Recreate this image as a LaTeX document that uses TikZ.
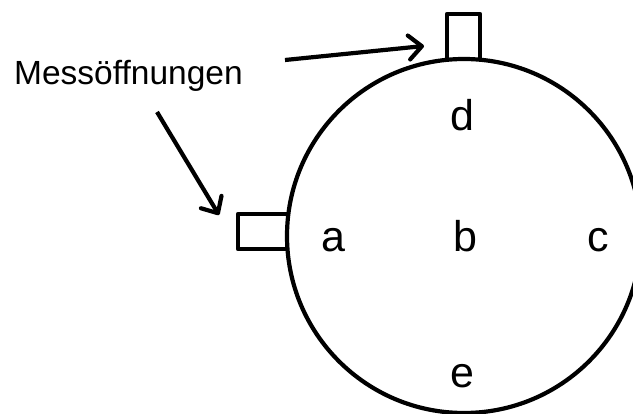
\documentclass[tikz,border=0pt]{standalone}
\usepackage{fontspec}
\setmainfont{Liberation Sans}
\usetikzlibrary{arrows.meta}
\begin{document}
\begin{tikzpicture}[x=1pt,y=-1pt,
  outline/.style={line width=4.2pt, line join=round},
  pointer/.style={line width=4.2pt, -{Straight Barb[length=13pt,width=24pt,line join=round,line cap=round]}},
  zone/.style={font=\fontsize{43}{43}\selectfont, anchor=base, inner sep=0pt},
  caption/.style={font=\fontsize{33.5}{33.5}\selectfont, anchor=base west, inner sep=0pt}]
\useasboundingbox (0,0) rectangle (633,414);
\clip (0,0) rectangle (633,414);
% pipe cross-section
\node[circle, draw, outline, minimum size=354pt, inner sep=0pt] (pipe) at (464,236) {};
% measuring openings
\draw[outline] (447,60) -- (447,14) -- (480,14) -- (480,60);
\draw[outline] (289,214) -- (238,214) -- (238,249) -- (289,249);
% zone labels
\node[zone] (a) at (333,252) {a};
\node[zone] (b) at (465,252) {b};
\node[zone] (c) at (598,252) {c};
\node[zone] (d) at (462,131) {d};
\node[zone] (e) at (462,388) {e};
% caption
\node[caption] (lbl) at (14,85) {Messöffnungen};
\coordinate (s1) at (285,60);
\coordinate (t1) at (424,46);
\coordinate (s2) at (157,112);
\coordinate (t2) at (219,215);
\draw[pointer] (s1) -- (t1);
\draw[pointer] (s2) -- (t2);
\end{tikzpicture}
\end{document}
